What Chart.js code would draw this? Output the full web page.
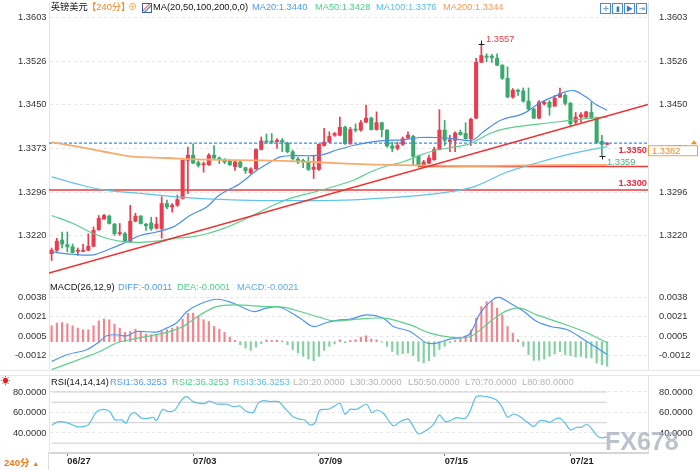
<!DOCTYPE html>
<html>
<head>
<meta charset="utf-8">
<script src="https://cdn.jsdelivr.net/npm/chart.js@4.4.0/dist/chart.umd.min.js"></script>
<style>
  body { margin: 0; background: #fff; }
  #wrap { position: relative; width: 700px; height: 470px; overflow: hidden; background: #fff;
          font-family: "Liberation Sans", Arial, "Noto Sans CJK SC", sans-serif; }
  canvas { position: absolute; left: 0; }
  .t { position: absolute; font-size: 9.3px; line-height: 11px; white-space: nowrap; }
  .sep { position: absolute; left: 0; width: 700px; height: 1px; background: #e6e6e6; }
  .btn { position: absolute; top: 3px; width: 9px; height: 9px; border: 1px solid #4a88d8;
         color: #3a78c8; font-size: 7px; line-height: 9px; text-align: center; }
</style>
</head>
<body>
<div id="wrap">
  <canvas id="cMain" width="700" height="282" style="top:0"></canvas>
  <canvas id="cMacd" width="700" height="90" style="top:281px"></canvas>
  <canvas id="cRsi" width="700" height="97" style="top:373px"></canvas>

  <div class="sep" style="top:370px"></div>
  <div class="sep" style="top:375px"></div>

  <!-- main legend -->
  <div class="t" style="left:50.7px;top:2.2px;color:#111">英镑美元</div>
  <div class="t" style="left:87px;top:2.2px;color:#f5821f">【240分】</div>
  <div class="t" style="left:128px;top:2.2px;color:#f5a040">⊕</div>
  <div style="position:absolute;left:142px;top:3px;width:8px;height:8px;border:1px solid #3a5aa8;background:linear-gradient(135deg,#fff 35%,#e33 40%,#fff 50%,#36c 60%,#fff 70%)"></div>
  <div class="t" style="left:153px;top:2.2px;color:#111">MA(20,50,100,200,0,0)</div>
  <div class="t" style="left:252px;top:2.2px;color:#4d9cf0">MA20:1.3440</div>
  <div class="t" style="left:315px;top:2.2px;color:#4fcf8a">MA50:1.3428</div>
  <div class="t" style="left:376px;top:2.2px;color:#5bbfe8">MA100:1.3376</div>
  <div class="t" style="left:443px;top:2.2px;color:#f79a59">MA200:1.3344</div>
  <div class="btn" style="left:600px">✛</div>
  <div class="btn" style="left:612px">▮</div>
  <div class="btn" style="left:624px">▶</div>
  <div class="btn" style="left:636px">⇥</div>

  <!-- macd legend -->
  <div class="t" style="left:50px;top:281.8px;color:#111">MACD(26,12,9)</div>
  <div class="t" style="left:118px;top:281.8px;color:#4d9cf0">DIFF:-0.0011</div>
  <div class="t" style="left:177px;top:281.8px;color:#4fcf8a">DEA:-0.0001</div>
  <div class="t" style="left:237px;top:281.8px;color:#5aaaf0">MACD:-0.0021</div>

  <!-- rsi legend -->
  <div class="t" style="left:1px;top:376px;color:#e02020;font-size:9px">☀</div>
  <div class="t" style="left:51px;top:377.2px;color:#111">RSI(14,14,14)</div>
  <div class="t" style="left:110px;top:377.2px;color:#4d9cf0">RSI1:36.3253</div>
  <div class="t" style="left:172px;top:377.2px;color:#4fcf8a">RSI2:36.3253</div>
  <div class="t" style="left:233px;top:377.2px;color:#5bbfe8">RSI3:36.3253</div>
  <div class="t" style="left:293px;top:377.2px;color:#b5b5b5">L20:20.0000</div>
  <div class="t" style="left:350px;top:377.2px;color:#b5b5b5">L30:30.0000</div>
  <div class="t" style="left:408px;top:377.2px;color:#b5b5b5">L50:50.0000</div>
  <div class="t" style="left:465px;top:377.2px;color:#b5b5b5">L70:70.0000</div>
  <div class="t" style="left:522px;top:377.2px;color:#b5b5b5">L80:80.0000</div>

  <div class="t" style="left:605px;top:428px;font-size:25px;line-height:27px;color:rgba(165,172,185,0.75);font-weight:bold">FX678</div>

  <div style="position:absolute;left:0;top:453px;width:48px;height:17px;border-right:1px solid #ddd"></div>
  <div class="t" style="left:4px;top:456.5px;color:#f07a1a;font-weight:bold;font-size:9.6px">240分 <span style="font-size:7px">▲</span></div>
</div>

<script>
const FONT = '"Liberation Sans", Arial, "Noto Sans CJK SC", sans-serif';

// ---- axis ticks ----
const priceTicks = [1.3603, 1.3526, 1.3450, 1.3373, 1.3296, 1.3220];
const macdTicks = [0.0038, 0.00214, 0.00048, -0.00118];
const rsiTicks = [80, 60, 40];
const dateTicks = [3, 27, 51, 75, 99];
const dateLabels = ['06/27', '07/03', '07/09', '07/15', '07/21'];
const X_MIN = -0.5, X_MAX = 113.8;

// ---- 240 min candles ----
const opens = [
  1.3188, 1.3194, 1.3212, 1.3204, 1.3200, 1.3192, 1.3192, 1.3194, 1.3201, 1.3230,
  1.3249, 1.3254, 1.3240, 1.3223, 1.3223, 1.3209, 1.3245, 1.3254, 1.3240, 1.3242,
  1.3233, 1.3232, 1.3276, 1.3270, 1.3273, 1.3285, 1.3352, 1.3361, 1.3348, 1.3344,
  1.3344, 1.3361, 1.3356, 1.3352, 1.3351, 1.3341, 1.3349, 1.3339, 1.3330, 1.3337,
  1.3371, 1.3385, 1.3386, 1.3385, 1.3387, 1.3382, 1.3367, 1.3354, 1.3352, 1.3349,
  1.3336, 1.3336, 1.3378, 1.3384, 1.3396, 1.3396, 1.3410, 1.3381, 1.3406, 1.3405,
  1.3419, 1.3426, 1.3406, 1.3418, 1.3405, 1.3377, 1.3373, 1.3380, 1.3392, 1.3394,
  1.3359, 1.3342, 1.3347, 1.3353, 1.3371, 1.3405, 1.3385, 1.3387, 1.3401, 1.3399,
  1.3390, 1.3426, 1.3524, 1.3535, 1.3535, 1.3531, 1.3519, 1.3496, 1.3463, 1.3475,
  1.3474, 1.3456, 1.3442, 1.3426, 1.3451, 1.3454, 1.3447, 1.3463, 1.3466, 1.3452,
  1.3419, 1.3428, 1.3428, 1.3436, 1.3425, 1.3385, 1.3380
];
const highs = [
  1.3198, 1.3215, 1.3226, 1.3226, 1.3205, 1.3198, 1.3205, 1.3223, 1.3235, 1.3255,
  1.3257, 1.3256, 1.3241, 1.3241, 1.3226, 1.3273, 1.3259, 1.3255, 1.3241, 1.3252,
  1.3252, 1.3288, 1.3282, 1.3276, 1.3291, 1.3353, 1.3375, 1.3381, 1.3351, 1.3349,
  1.3364, 1.3378, 1.3358, 1.3355, 1.3352, 1.3351, 1.3351, 1.3340, 1.3339, 1.3372,
  1.3393, 1.3398, 1.3399, 1.3390, 1.3390, 1.3384, 1.3370, 1.3357, 1.3354, 1.3358,
  1.3361, 1.3381, 1.3408, 1.3402, 1.3401, 1.3428, 1.3412, 1.3410, 1.3416, 1.3422,
  1.3449, 1.3428, 1.3437, 1.3419, 1.3406, 1.3384, 1.3384, 1.3393, 1.3402, 1.3396,
  1.3361, 1.3352, 1.3361, 1.3375, 1.3441, 1.3422, 1.3396, 1.3402, 1.3405, 1.3418,
  1.3426, 1.3531, 1.3557, 1.3539, 1.3538, 1.3539, 1.3520, 1.3516, 1.3478, 1.3477,
  1.3479, 1.3479, 1.3443, 1.3457, 1.3457, 1.3457, 1.3466, 1.3479, 1.3469, 1.3454,
  1.3436, 1.3436, 1.3438, 1.3454, 1.3428, 1.3396, 1.3383
];
const lows = [
  1.3176, 1.3192, 1.3198, 1.3191, 1.3189, 1.3185, 1.3191, 1.3193, 1.3200, 1.3229,
  1.3248, 1.3240, 1.3220, 1.3220, 1.3209, 1.3208, 1.3244, 1.3240, 1.3229, 1.3229,
  1.3231, 1.3215, 1.3267, 1.3261, 1.3271, 1.3284, 1.3294, 1.3346, 1.3340, 1.3331,
  1.3343, 1.3355, 1.3346, 1.3346, 1.3343, 1.3334, 1.3339, 1.3329, 1.3328, 1.3336,
  1.3370, 1.3381, 1.3381, 1.3373, 1.3367, 1.3365, 1.3352, 1.3346, 1.3339, 1.3334,
  1.3320, 1.3334, 1.3377, 1.3383, 1.3394, 1.3395, 1.3380, 1.3380, 1.3402, 1.3403,
  1.3418, 1.3405, 1.3405, 1.3393, 1.3375, 1.3367, 1.3370, 1.3378, 1.3390, 1.3343,
  1.3340, 1.3339, 1.3346, 1.3352, 1.3370, 1.3378, 1.3367, 1.3367, 1.3396, 1.3389,
  1.3378, 1.3425, 1.3524, 1.3525, 1.3524, 1.3518, 1.3494, 1.3462, 1.3461, 1.3466,
  1.3454, 1.3440, 1.3425, 1.3425, 1.3449, 1.3431, 1.3447, 1.3462, 1.3449, 1.3413,
  1.3416, 1.3419, 1.3426, 1.3425, 1.3381, 1.3359, 1.3379
];
const closes = [
  1.3194, 1.3210, 1.3205, 1.3200, 1.3190, 1.3194, 1.3194, 1.3201, 1.3229, 1.3250,
  1.3255, 1.3241, 1.3223, 1.3225, 1.3210, 1.3245, 1.3254, 1.3241, 1.3237, 1.3232,
  1.3240, 1.3276, 1.3270, 1.3273, 1.3283, 1.3352, 1.3361, 1.3347, 1.3343, 1.3346,
  1.3361, 1.3356, 1.3353, 1.3349, 1.3344, 1.3349, 1.3340, 1.3334, 1.3337, 1.3371,
  1.3386, 1.3384, 1.3384, 1.3387, 1.3384, 1.3367, 1.3355, 1.3349, 1.3349, 1.3336,
  1.3340, 1.3380, 1.3384, 1.3394, 1.3399, 1.3410, 1.3381, 1.3406, 1.3405, 1.3418,
  1.3426, 1.3406, 1.3418, 1.3406, 1.3377, 1.3373, 1.3378, 1.3390, 1.3396, 1.3359,
  1.3343, 1.3349, 1.3356, 1.3371, 1.3405, 1.3387, 1.3388, 1.3400, 1.3397, 1.3390,
  1.3424, 1.3524, 1.3536, 1.3533, 1.3532, 1.3519, 1.3496, 1.3463, 1.3475, 1.3473,
  1.3456, 1.3442, 1.3426, 1.3454, 1.3454, 1.3445, 1.3461, 1.3469, 1.3452, 1.3416,
  1.3428, 1.3432, 1.3437, 1.3426, 1.3383, 1.3380, 1.3382
];

// ---- moving averages: [bar, value] ----
const ma20 = [[0,1.3191],[4,1.3187],[8,1.3186],[10.5,1.3194],[13.7,1.3206],[16.9,1.3220],[20,1.3226],
  [23.2,1.3235],[26.4,1.3255],[29.6,1.3270],[32,1.3291],[35.9,1.3311],[39.1,1.3334],[42.3,1.3352],
  [43.6,1.3358],[45.5,1.3360],[51.2,1.3361],[54.4,1.3370],[57.5,1.3378],[60.8,1.3384],[63.9,1.3387],
  [67,1.3388],[70.3,1.3392],[73.5,1.3392],[76.6,1.3390],[80.2,1.3387],[82.4,1.3402],[85.6,1.3422],
  [90,1.3434],[93.2,1.3453],[96.4,1.3466],[98.3,1.3473],[99.9,1.3474],[102,1.3463],[104,1.3449],[106,1.3440]];
const ma50 = [[0,1.3255],[4.1,1.3241],[7.3,1.3226],[10.5,1.3215],[13.7,1.3209],[16.9,1.3208],[20,1.3210],
  [23.2,1.3215],[26.4,1.3217],[29.6,1.3223],[32.7,1.3232],[35.9,1.3244],[42.3,1.3273],[45.5,1.3285],
  [51.2,1.3299],[57.6,1.3317],[60.7,1.3331],[63.9,1.3342],[67,1.3349],[70.3,1.3361],[73.5,1.3370],
  [76.6,1.3375],[79.8,1.3381],[83.6,1.3399],[86.8,1.3408],[93.2,1.3416],[99,1.3422],[102.7,1.3426],[106,1.3428]];
const ma100 = [[0,1.3323],[5,1.3310],[10.5,1.3299],[16.9,1.3294],[26.4,1.3286],[35.9,1.3282],[46,1.3281],
  [56,1.3282],[64,1.3286],[72,1.3292],[80,1.3304],[86.8,1.3331],[93.2,1.3349],[99.5,1.3364],[106,1.3376]];
const ma200 = [[0,1.3384],[5,1.3376],[10,1.3367],[15,1.3359],[22,1.3356],[30,1.3353],[40,1.3352],
  [50,1.3349],[60,1.3345],[70,1.3343],[80,1.3342],[90,1.3343],[100,1.3344],[106,1.3344]];

// ---- drawn lines & marks ----
const trendPts = [[-0.5, 1.3154], [113.8, 1.3450]];
const supportPts = [[70, 1.3341], [113.8, 1.3341]];
const levelPts = [[-0.5, 1.3300], [113.8, 1.3300]];
const lastPrice = 1.3382;
const highMark = [82, 1.3557];
const lowMark = [105, 1.3359];

// ---- MACD ----
const macdHist = [
  0.00136, 0.00159, 0.00164, 0.00153, 0.00136, 0.00116, 0.00102, 0.00102, 0.00136, 0.00178,
  0.00193, 0.00187, 0.0015, 0.00116, 0.00079, 0.00087, 0.00107, 0.00087, 0.00065, 0.00059,
  0.00059, 0.00087, 0.00102, 0.00116, 0.0013, 0.00193, 0.00244, 0.00244, 0.00221, 0.00187,
  0.00173, 0.0013, 0.00107, 0.00079, 0.00039, 0.0001, -0.00026, -0.00055, -0.00075, -0.00046,
  -0.00018, 0.00015, 0.0001, 0.00012, 0.00006, -0.00026, -0.00068, -0.00097, -0.00126, -0.00149,
  -0.00163, -0.00126, -0.00075, -0.0004, -0.0002, 0.00016, -0.0001,
  0.0001, 0.00016, 0.00039, 0.0005, 0.00022, 0.00016, -0.00005, -0.00041, -0.00084, -0.00112,
  -0.00103, -0.00097, -0.0012, -0.00169, -0.00183, -0.00163, -0.00126, -0.00068, -0.0004, -0.0001,
  0.0001, 0.00022, 0.0005, 0.00102, 0.00201, 0.003, 0.00343, 0.00343, 0.00287, 0.00229,
  0.0013, 0.00073, 0.00016, -0.00041, -0.00112, -0.0016, -0.0016, -0.00149, -0.00126, -0.00103,
  -0.00084, -0.00112, -0.0012, -0.00132, -0.00126, -0.0014, -0.0014, -0.00183, -0.00197, -0.00211
];
const diffLine = [[0,-0.00169],[2.9,-0.00112],[6.7,-0.00069],[9.2,0.00002],[10.5,0.0005],[12.4,0.00059],
  [14.3,0.0005],[16.2,0.00087],[20,0.00082],[21.9,0.00116],[23.8,0.00159],[25.8,0.00258],[28.3,0.00323],
  [31.5,0.00363],[34.7,0.00329],[38.5,0.00258],[41,0.00287],[43.6,0.00295],[47.4,0.00201],[49.9,0.0013],
  [52.5,0.00164],[55,0.00187],[57,0.00193],[60.1,0.00229],[63.3,0.00201],[65.2,0.0013],[68.4,0.00087],
  [71.6,-0.00012],[73.5,-0.00012],[76,0.00022],[78.6,0.00039],[79.9,0.00073],[81.8,0.00244],[83.7,0.00343],
  [85.3,0.0038],[87.5,0.00329],[90.1,0.00258],[92.6,0.00172],[95.2,0.0013],[98.4,0.00102],[101.6,0.00016],
  [104.1,-0.00055],[106,-0.0011]];
const deaLine = [[0,-0.0024],[6,-0.0014],[9.2,-0.00084],[12.4,-0.00012],[15.6,0.00022],[18.8,0.0005],
  [21.9,0.00079],[25.1,0.0013],[28.3,0.00229],[31.5,0.003],[34.7,0.00315],[41,0.003],[44.2,0.00295],
  [47.4,0.00258],[50.6,0.00215],[53.8,0.00178],[57,0.00187],[63.3,0.00201],[68.4,0.00144],[72.2,0.00073],
  [76,0.00039],[79.9,0.00044],[83.7,0.00172],[86.9,0.00266],[89.4,0.00287],[92.6,0.00229],[96.4,0.00172],
  [101.6,0.00087],[106,-0.0001]];

// ---- RSI ----
const rsiLine = [[0,47.8],[1.3,51.0],[2.9,50.1],[4.8,46.2],[6,46.2],[7,47.8],[8.6,60.8],[9.9,63.1],
  [11.1,60.8],[12.1,52.7],[13.4,52.7],[14.2,49.4],[15,57.6],[15.9,59.8],[17.2,54.3],[18.4,54.3],[19.4,55.3],
  [20,52.0],[21.2,63.1],[22.3,60.8],[23.5,62.4],[24.8,72.2],[25.8,75.4],[27,70.6],[28.3,68.9],[29.3,68.9],
  [30.1,71.2],[31.5,68.3],[33.4,68.0],[34.7,65.7],[35.9,66.3],[37.2,60.8],[38.5,60.2],[39.4,68.9],[40.4,71.5],
  [41.7,70.6],[43.3,70.6],[44.5,64.1],[46.1,55.9],[47.4,53.3],[48.3,52.7],[49.3,47.8],[50.2,49.4],[51.2,62.4],
  [52.8,63.1],[53.8,65.7],[55,68.9],[56,58.2],[56.9,63],[58.2,63.1],[60.1,68.0],[61.1,59.8],[62,62.4],
  [63.3,59.2],[65.2,46.8],[66.5,51.1],[68.1,53.3],[69,46.2],[70,39.0],[71.6,42.9],[72.8,47.8],[74,57.6],
  [75.1,51.1],[76,52.0],[77.3,54.9],[78.9,54.0],[79.8,60.8],[81,75.4],[82.1,76.1],[83.6,74.8],[84.9,72.2],
  [85.9,65.7],[87,55.3],[88.1,58.5],[89.4,55.9],[90.6,51.1],[92,46.2],[93.1,52.0],[94.1,52.0],[95.1,50.4],
  [96.1,53.6],[97,54.3],[98,49.4],[99,42.9],[100.2,45.5],[101.1,45.5],[102.1,48.5],[103,44.5],[104.1,37.1],
  [105,35.1],[106,36.3]];
const rsiLevels = [20, 30, 50, 70, 80];

// ---------------------------------------------------------------
Chart.defaults.font.family = FONT;
Chart.defaults.font.size = 9.3;
Chart.defaults.color = '#333';

const UP = '#eb3b4e', DOWN = '#3aa96c';
const bars = opens.map((o, i) => i);
const candleColors = bars.map(i => closes[i] >= opens[i] ? UP : DOWN);

function lineSet(pts, color, width, extra) {
  return Object.assign({
    type: 'line',
    data: pts.map(p => ({ x: p[0], y: p[1] })),
    borderColor: color, borderWidth: width,
    pointRadius: 0, tension: 0.35, fill: false, order: 1
  }, extra || {});
}

function xHidden() {
  return { type: 'linear', min: X_MIN, max: X_MAX, offset: false, display: false };
}

function yAxes(min, max, tickVals) {
  const build = s => { s.ticks = tickVals.map(v => ({ value: v })); };
  const fmt = v => Number(v).toFixed(4);
  return {
    y: {
      type: 'linear', position: 'left', min: min, max: max, afterBuildTicks: build,
      afterFit: s => { s.width = 49; s.paddingTop = 0; s.paddingBottom = 0; },
      ticks: { padding: 2.5, callback: fmt },
      grid: { color: '#e6e6e6', drawTicks: false },
      border: { display: true, color: '#dfe5ec', dash: [3, 3] }
    },
    y2: {
      type: 'linear', position: 'right', min: min, max: max, afterBuildTicks: build,
      afterFit: s => { s.width = 52; s.paddingTop = 0; s.paddingBottom = 0; },
      ticks: { padding: 3, callback: fmt },
      grid: { display: false },
      border: { display: true, color: '#e3e3e3' }
    }
  };
}

const common = {
  responsive: false, animation: false, events: [],
  plugins: { legend: { display: false }, tooltip: { enabled: false } }
};

// labels and markers on the price panel
const priceMarks = {
  id: 'priceMarks',
  afterDatasetsDraw(chart) {
    const { ctx, chartArea: a, scales: { x, y } } = chart;
    ctx.save();
    ctx.textBaseline = 'middle';

    ctx.font = 'bold 9.3px ' + FONT;
    ctx.fillStyle = '#f0283c';
    ctx.textAlign = 'right';
    ctx.fillText('1.3350', a.right - 1, y.getPixelForValue(supportPts[0][1]) - 16);
    ctx.fillText('1.3300', a.right - 1, y.getPixelForValue(levelPts[0][1]) - 6.5);

    ctx.strokeStyle = '#222';
    ctx.lineWidth = 1;
    const hx = Math.round(x.getPixelForValue(highMark[0])) + 0.5;
    const hy = Math.round(y.getPixelForValue(highMark[1])) + 0.5;
    ctx.beginPath();
    ctx.moveTo(hx - 3, hy); ctx.lineTo(hx + 3, hy);
    ctx.moveTo(hx, hy); ctx.lineTo(hx, hy - 4);
    ctx.stroke();
    const lx = Math.round(x.getPixelForValue(lowMark[0])) + 0.5;
    const ly = Math.round(y.getPixelForValue(lowMark[1])) + 0.5;
    ctx.beginPath();
    ctx.moveTo(lx - 3, ly); ctx.lineTo(lx + 3, ly);
    ctx.moveTo(lx, ly); ctx.lineTo(lx, ly + 3);
    ctx.stroke();

    ctx.font = '9.3px ' + FONT;
    ctx.textAlign = 'left';
    ctx.fillStyle = '#f0384a';
    ctx.fillText(highMark[1].toFixed(4), hx + 4.5, hy - 5);
    ctx.fillStyle = '#4cb07a';
    ctx.fillText(lowMark[1].toFixed(4), lx + 4.5, ly + 5.5);

    // current price box on the right axis
    const py = y.getPixelForValue(lastPrice);
    ctx.fillStyle = '#fff';
    ctx.fillRect(a.right + 0.5, py + 2.5, 49, 10);
    ctx.strokeStyle = '#f5a14c';
    ctx.strokeRect(a.right + 0.5, py + 2.5, 49, 10);
    ctx.fillStyle = '#f08a2a';
    ctx.fillText(lastPrice.toFixed(4), a.right + 4, py + 7.8);
    ctx.beginPath();
    ctx.moveTo(a.right + 43, py + 1); ctx.lineTo(a.right + 49, py + 1); ctx.lineTo(a.right + 46, py - 3);
    ctx.closePath();
    ctx.fill();
    ctx.restore();
  }
};

new Chart(document.getElementById('cMain'), {
  type: 'bar',
  data: {
    datasets: [
      { type: 'bar', data: bars.map(i => ({ x: i, y: [lows[i], highs[i]] })), backgroundColor: candleColors,
        barThickness: 1, maxBarThickness: 1, grouped: false, order: 6 },
      { type: 'bar', data: bars.map(i => ({ x: i, y: [opens[i], closes[i]] })), backgroundColor: candleColors,
        barThickness: 3.4, maxBarThickness: 3.4, minBarLength: 1, grouped: false, order: 5 },
      lineSet(levelPts, '#e83c3c', 1.5, { tension: 0, order: 3 }),
      lineSet(supportPts, '#ee3a3a', 1.5, { tension: 0, order: 3 }),
      lineSet([[X_MIN, lastPrice], [X_MAX, lastPrice]], '#3b8beb', 1.2, { tension: 0, borderDash: [3, 2], order: 3 }),
      lineSet(ma200, '#f8ab6c', 1.8),
      lineSet(ma100, '#62c3ea', 1.2),
      lineSet(ma50, '#5ccf8d', 1.2),
      lineSet(ma20, '#4a8fe6', 1.2),
      lineSet(trendPts, '#f03030', 1.5, { tension: 0, order: 0 })
    ]
  },
  options: Object.assign({}, common, {
    layout: { padding: { top: 2, bottom: 1, left: 0, right: 0 } },
    scales: Object.assign({ x: xHidden() }, yAxes(1.3140, 1.3630, priceTicks))
  }),
  plugins: [priceMarks]
});

new Chart(document.getElementById('cMacd'), {
  type: 'bar',
  data: {
    datasets: [
      { type: 'bar', data: macdHist.map((v, i) => ({ x: i, y: v })),
        backgroundColor: macdHist.map(v => v >= 0 ? '#f3848d' : '#83d0a3'),
        barThickness: 1.5, maxBarThickness: 1.5, grouped: false, order: 5 },
      lineSet(deaLine, '#5ccf8d', 1.2),
      lineSet(diffLine, '#4f95f0', 1.2)
    ]
  },
  options: Object.assign({}, common, {
    layout: { padding: { top: 1, bottom: 1, left: 0, right: 0 } },
    scales: Object.assign({ x: xHidden() }, yAxes(-0.00243, 0.00511, macdTicks))
  })
});

new Chart(document.getElementById('cRsi'), {
  type: 'line',
  data: {
    datasets: rsiLevels.map(l => lineSet([[0, l], [106, l]], '#cccccc', 1, { tension: 0, order: 3 }))
      .concat([lineSet(rsiLine, '#5bbfe8', 1.2, { tension: 0.25 })])
  },
  options: Object.assign({}, common, {
    layout: { padding: { top: 2, bottom: 0, left: 0, right: 0 } },
    scales: Object.assign({
      x: {
        type: 'linear', min: X_MIN, max: X_MAX, offset: false, position: 'bottom',
        afterBuildTicks: s => { s.ticks = dateTicks.map(v => ({ value: v })); },
        afterFit: s => { s.height = 17; s.paddingLeft = 0; s.paddingRight = 0; },
        ticks: { autoSkip: false, maxRotation: 0, align: 'start', padding: 0, color: '#222',
                 font: { weight: 'bold' }, callback: v => dateLabels[dateTicks.indexOf(v)] },
        grid: { display: true, drawOnChartArea: false, drawTicks: true, tickLength: 3, color: '#777', offset: false },
        border: { display: true, color: '#d6d6d6', width: 2 }
      }
    }, yAxes(20.4, 96.6, rsiTicks))
  })
});
</script>
</body>
</html>
